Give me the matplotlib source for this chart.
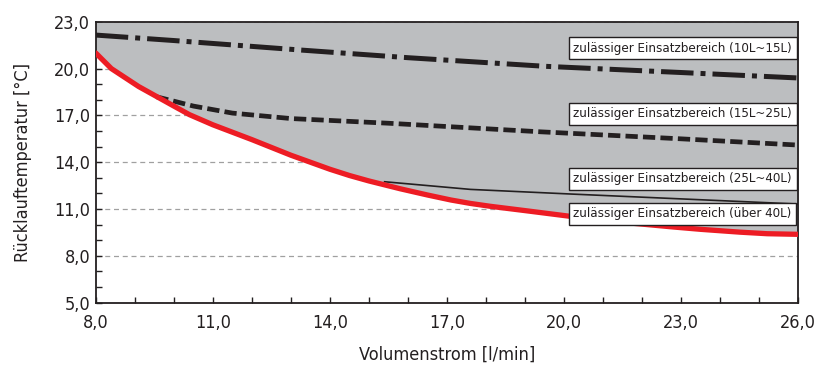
import numpy as np
import matplotlib.pyplot as plt
from matplotlib import font_manager
from matplotlib.font_manager import FontProperties
from matplotlib.ticker import MultipleLocator

# look for a condensed sans (reference uses a narrow Helvetica)
prefs = ['Liberation Sans Narrow', 'Roboto Condensed', 'Noto Sans', 'Open Sans', 'Inter', 'DejaVu Sans']
cands = []
for f in font_manager.fontManager.ttflist:
    if f.style != 'normal' or f.weight not in (400, 'normal', 'regular'):
        continue
    if 'Serif' in f.name or 'Mono' in f.name or 'Sans' not in f.name:
        continue
    if 'Narrow' in f.name or 'Condensed' in f.name or f.stretch in ('condensed', 'semi-condensed'):
        rank = len(prefs)
        for i, p in enumerate(prefs):
            if f.name.startswith(p):
                rank = i
                break
        st = 0 if f.stretch == 'condensed' else 1
        cands.append((rank, st, f.fname))
cands.sort()

if cands:
    fp_path = cands[0][2]
    fs_tick, fs_box = 13, 9.5
else:
    fp_path = font_manager.findfont('Liberation Sans')
    fs_tick, fs_box = 12, 8.6

def fp(size):
    return FontProperties(fname=fp_path, size=size)

# red boundary curve (lower limit)
red_x = [8.0, 8.4, 9.1, 10.0, 10.4, 11.0, 12.0, 13.0, 14.0, 14.5, 15.0, 15.8, 16.5, 17.1,
         17.6, 18.1, 19.0, 20.2, 21.5, 22.8, 23.5, 24.5, 25.2, 26.0]
red_y = [21.0, 20.0, 18.85, 17.6, 17.05, 16.4, 15.45, 14.45, 13.55, 13.15, 12.8, 12.3, 11.9, 11.58,
         11.36, 11.18, 10.9, 10.52, 10.15, 9.85, 9.7, 9.52, 9.42, 9.38]

# 10L~15L (dash-dot)
dd_x = [8.0, 10.0, 13.2, 16.0, 19.5, 23.0, 26.0]
dd_y = [22.15, 21.8, 21.2, 20.7, 20.15, 19.75, 19.4]

# 15L~25L (dashed)
da_x = [9.55, 10.5, 11.5, 13.0, 15.5, 19.4, 23.0, 26.0]
da_y = [18.2, 17.6, 17.15, 16.8, 16.5, 15.95, 15.5, 15.1]

# 25L~40L (thin)
th_x = [15.4, 17.6, 20.2, 26.0]
th_y = [12.75, 12.26, 11.96, 11.32]

labels = ['zulässiger Einsatzbereich (10L~15L)',
          'zulässiger Einsatzbereich (15L~25L)',
          'zulässiger Einsatzbereich (25L~40L)',
          'zulässiger Einsatzbereich (über 40L)']
label_y = [21.32, 17.1, 12.94, 10.69]

x_ticks = [8, 11, 14, 17, 20, 23, 26]
y_ticks = [5, 8, 11, 14, 17, 20, 23]

fig = plt.figure(figsize=(8.15, 3.76), dpi=100)
ax = fig.add_axes([0.1175, 0.195, 0.862, 0.747])

ax.fill_between(red_x, red_y, 23, color='#bcbec0', lw=0, zorder=1)
ax.plot(dd_x, dd_y, color='#231f20', lw=3.6, dashes=(6.5, 1.4, 1.0, 1.4), zorder=3)
ax.plot(da_x, da_y, color='#231f20', lw=3.4, dashes=(2.6, 1.1), zorder=3)
ax.plot(th_x, th_y, color='#231f20', lw=1.2, zorder=3)
ax.plot(red_x, red_y, color='#ed1c24', lw=3.8, solid_capstyle='round', zorder=4)

for t, y in zip(labels, label_y):
    ax.text(20.24, y, t, fontproperties=fp(fs_box), va='center', ha='left', color='#231f20', zorder=5,
            bbox=dict(boxstyle='square,pad=0.36', fc='white', ec='#231f20', lw=1))

ax.set_xlim(8, 26)
ax.set_ylim(5, 23)
ax.set_xticks(x_ticks)
ax.set_yticks(y_ticks)
ax.xaxis.set_minor_locator(MultipleLocator(1))
ax.yaxis.set_minor_locator(MultipleLocator(1))
ax.set_xticklabels([f'{v:.1f}'.replace('.', ',') for v in x_ticks], fontproperties=fp(fs_tick))
ax.set_yticklabels([f'{v:.1f}'.replace('.', ',') for v in y_ticks], fontproperties=fp(fs_tick))
ax.tick_params(which='both', direction='in', length=4, width=1, color='#231f20', labelcolor='#231f20')
ax.tick_params(axis='x', pad=8)
ax.tick_params(axis='y', pad=4)

ax.set_axisbelow(True)
ax.grid(axis='y', which='major', color='#a0a0a0', lw=0.9, linestyle=(0, (4, 3)))
for s in ax.spines.values():
    s.set_color('#231f20')
    s.set_linewidth(1.3)

ax.set_xlabel('Volumenstrom [l/min]', fontproperties=fp(fs_tick), color='#231f20', labelpad=10)
ax.set_ylabel('Rücklauftemperatur [°C]', fontproperties=fp(fs_tick), color='#231f20', labelpad=16)

fig.savefig('out.png', dpi=100)
